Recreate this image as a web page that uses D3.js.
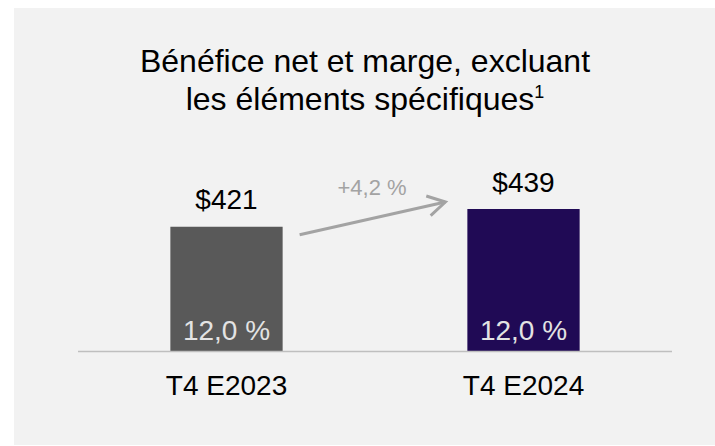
<!DOCTYPE html>
<html>
<head>
<meta charset="utf-8">
<script src="https://cdn.jsdelivr.net/npm/d3@7"></script>
<style>
  body { margin: 0; background: #ffffff; }
  svg { display: block; font-family: "Liberation Sans", Arial, sans-serif; }
</style>
</head>
<body>
<div id="chart"></div>
<script>
// data
var categories = ["T4 E2023", "T4 E2024"];
var netIncome = [421, 439];
var valueLabels = ["$421", "$439"];
var marginLabels = ["12,0 %", "12,0 %"];
var growthLabel = "+4,2 %";
var titleLines = ["Bénéfice net et marge, excluant", "les éléments spécifiques"];

var width = 715, height = 446;
var barColors = ["#595959", "#200a55"];

var svg = d3.select("#chart")
            .append("svg")
            .attr("width", width)
            .attr("height", height);

// gray panel behind everything
svg.append("rect")
   .attr("x", 14).attr("y", 8)
   .attr("width", width - 14).attr("height", 437)
   .attr("fill", "#f2f2f2");

// title, two lines, with superscript note
var title = svg.append("text")
               .attr("text-anchor", "middle")
               .attr("font-size", 32)
               .attr("fill", "#000");
title.append("tspan").attr("x", 365).attr("y", 72).text(titleLines[0]);
title.append("tspan").attr("x", 365).attr("y", 110).text(titleLines[1]);
title.append("tspan").attr("font-size", 18).attr("dy", -12).text("1");

var x = d3.scaleBand()
          .domain(categories)
          .range([78, 672])
          .paddingInner(0.622)
          .paddingOuter(0.311);

// value axis does not start at zero in the original slide
var y = d3.scaleLinear()
          .domain([295, 439])
          .range([351, 209]);

var rows = categories.map(function(c, i) {
    return { cat: c, value: netIncome[i], label: valueLabels[i], margin: marginLabels[i], color: barColors[i] };
});

svg.selectAll("rect.bar")
   .data(rows)
   .enter().append("rect")
   .attr("class", "bar")
   .attr("x", d => x(d.cat))
   .attr("y", d => y(d.value))
   .attr("width", x.bandwidth())
   .attr("height", d => y.range()[0] - y(d.value))
   .attr("fill", d => d.color);

// baseline
svg.append("line")
   .attr("x1", 78).attr("x2", 672)
   .attr("y1", 351.5).attr("y2", 351.5)
   .attr("stroke", "#bfbfbf")
   .attr("stroke-width", 1.5);

// dollar labels above bars
svg.selectAll("text.value")
   .data(rows)
   .enter().append("text")
   .attr("class", "value")
   .attr("x", d => x(d.cat) + x.bandwidth() / 2)
   .attr("y", d => y(d.value) - 17.5)
   .attr("text-anchor", "middle")
   .attr("font-size", 28)
   .attr("fill", "#000")
   .text(d => d.label);

// margin labels inside bars
svg.selectAll("text.margin")
   .data(rows)
   .enter().append("text")
   .attr("class", "margin")
   .attr("x", d => x(d.cat) + x.bandwidth() / 2)
   .attr("y", 340)
   .attr("text-anchor", "middle")
   .attr("font-size", 28)
   .attr("fill", "#e3e3e3")
   .text(d => d.margin);

// category labels
svg.selectAll("text.cat")
   .data(rows)
   .enter().append("text")
   .attr("class", "cat")
   .attr("x", d => x(d.cat) + x.bandwidth() / 2)
   .attr("y", 395)
   .attr("text-anchor", "middle")
   .attr("font-size", 28)
   .attr("fill", "#000")
   .text(d => d.cat);

// growth arrow between the bars
var ax1 = x(categories[0]) + x.bandwidth() + 17;
var ay1 = y(netIncome[0]) + 8;
var ax2 = x(categories[1]) - 22;
var ay2 = y(netIncome[1]) - 7;
var ang = Math.atan2(ay2 - ay1, ax2 - ax1);
var headLen = 20, headAng = Math.PI / 6;

svg.append("line")
   .attr("x1", ax1).attr("y1", ay1)
   .attr("x2", ax2).attr("y2", ay2)
   .attr("stroke", "#a3a3a3")
   .attr("stroke-width", 3);

svg.append("path")
   .attr("d", "M" + (ax2 - headLen * Math.cos(ang - headAng)) + "," + (ay2 - headLen * Math.sin(ang - headAng)) +
              "L" + ax2 + "," + ay2 +
              "L" + (ax2 - headLen * Math.cos(ang + headAng)) + "," + (ay2 - headLen * Math.sin(ang + headAng)))
   .attr("fill", "none")
   .attr("stroke", "#a3a3a3")
   .attr("stroke-width", 3)
   .attr("stroke-linejoin", "miter");

svg.append("text")
   .attr("x", 372)
   .attr("y", 195)
   .attr("text-anchor", "middle")
   .attr("font-size", 22)
   .attr("fill", "#a3a3a3")
   .text(growthLabel);
</script>
</body>
</html>
